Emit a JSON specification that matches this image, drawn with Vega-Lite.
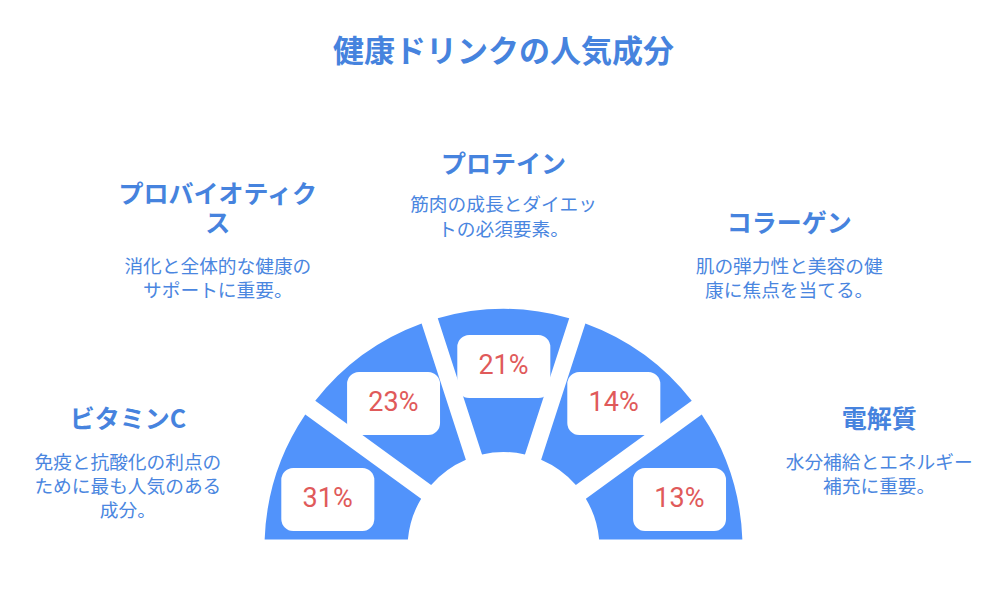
{
  "$schema": "https://vega.github.io/schema/vega-lite/v6.json",
  "width": 1007,
  "height": 602,
  "padding": 0,
  "autosize": {"type": "none"},
  "background": "white",
  "config": {"view": {"stroke": null}},
  "data": {
    "values": [
      {"order": 1, "name": ["ビタミンC"], "pct": "31%", "desc": ["免疫と抗酸化の利点の", "ために最も人気のある", "成分。"]},
      {"order": 2, "name": ["プロバイオティク", "ス"], "pct": "23%", "desc": ["消化と全体的な健康の", "サポートに重要。"]},
      {"order": 3, "name": ["プロテイン"], "pct": "21%", "desc": ["筋肉の成長とダイエッ", "トの必須要素。"]},
      {"order": 4, "name": ["コラーゲン"], "pct": "14%", "desc": ["肌の弾力性と美容の健", "康に焦点を当てる。"]},
      {"order": 5, "name": ["電解質"], "pct": "13%", "desc": ["水分補給とエネルギー", "補充に重要。"]}
    ]
  },
  "resolve": {"scale": {"theta": "independent"}},
  "layer": [
    {
      "mark": {"type": "arc", "innerRadius": 96, "outerRadius": 239, "padAngle": 0.066, "color": "#5193FB", "yOffset": 247},
      "encoding": {
        "theta": {"aggregate": "count", "type": "quantitative", "stack": true, "scale": {"domain": [0, 5], "range": [-1.5708, 1.5708]}},
        "detail": {"field": "order", "type": "ordinal"},
        "order": {"field": "order", "type": "quantitative"}
      }
    },
    {
      "mark": {"type": "text", "text": "■", "font": "DejaVu Sans", "fontSize": 51, "fill": "white", "stroke": "white", "strokeWidth": 24, "strokeJoin": "round", "radius": 183, "dx": -15, "baseline": "middle", "align": "center", "yOffset": 247},
      "encoding": {
        "theta": {"field": "order", "type": "quantitative", "stack": null, "scale": {"domain": [0.5, 5.5], "range": [-1.6144, 1.6144]}}
      }
    },
    {
      "mark": {"type": "text", "text": "■", "font": "DejaVu Sans", "fontSize": 51, "fill": "white", "stroke": "white", "strokeWidth": 24, "strokeJoin": "round", "radius": 183, "dx": 15, "baseline": "middle", "align": "center", "yOffset": 247},
      "encoding": {
        "theta": {"field": "order", "type": "quantitative", "stack": null, "scale": {"domain": [0.5, 5.5], "range": [-1.6144, 1.6144]}}
      }
    },
    {
      "mark": {"type": "text", "font": "Roboto", "fontSize": 27, "color": "#E05A5A", "radius": 183, "dy": 1, "baseline": "middle", "align": "center", "yOffset": 247},
      "encoding": {
        "theta": {"field": "order", "type": "quantitative", "stack": null, "scale": {"domain": [0.5, 5.5], "range": [-1.6144, 1.6144]}},
        "text": {"field": "pct", "type": "nominal"}
      }
    },
    {
      "transform": [{"filter": "datum.order == 3"}],
      "mark": {"type": "text", "font": "Noto Sans CJK JP", "fontSize": 25, "fontWeight": "bold", "color": "#4683DE", "radius": 385, "dy": 2, "lineHeight": 29, "baseline": "middle", "align": "center", "yOffset": 247},
      "encoding": {
        "theta": {"field": "order", "type": "quantitative", "stack": null, "scale": {"domain": [0.5, 5.5], "range": [-1.5708, 1.5708]}},
        "text": {"field": "name"}
      }
    },
    {
      "transform": [{"filter": "datum.order == 2"}],
      "mark": {"type": "text", "font": "Noto Sans CJK JP", "fontSize": 25, "fontWeight": "bold", "color": "#4683DE", "radius": 486, "dy": 53, "lineHeight": 29.5, "baseline": "bottom", "align": "center", "yOffset": 247},
      "encoding": {
        "theta": {"field": "order", "type": "quantitative", "stack": null, "scale": {"domain": [0.5, 5.5], "range": [-1.5708, 1.5708]}},
        "text": {"field": "name"}
      }
    },
    {
      "transform": [{"filter": "datum.order == 4"}],
      "mark": {"type": "text", "font": "Noto Sans CJK JP", "fontSize": 25, "fontWeight": "bold", "color": "#4683DE", "radius": 486, "dy": 82, "lineHeight": 29, "baseline": "bottom", "align": "center", "yOffset": 247},
      "encoding": {
        "theta": {"field": "order", "type": "quantitative", "stack": null, "scale": {"domain": [0.5, 5.5], "range": [-1.5708, 1.5708]}},
        "text": {"field": "name"}
      }
    },
    {
      "transform": [{"filter": "datum.order == 1 || datum.order == 5"}],
      "mark": {"type": "text", "font": "Noto Sans CJK JP", "fontSize": 25, "fontWeight": "bold", "color": "#4683DE", "radius": 395, "dy": -6, "lineHeight": 29, "baseline": "middle", "align": "center", "yOffset": 247},
      "encoding": {
        "theta": {"field": "order", "type": "quantitative", "stack": null, "scale": {"domain": [0.5, 5.5], "range": [-1.5708, 1.5708]}},
        "text": {"field": "name"}
      }
    },
    {
      "transform": [{"filter": "datum.order == 3"}],
      "mark": {"type": "text", "font": "Noto Sans CJK JP", "fontSize": 18.7, "color": "#4A86E0", "radius": 385, "dy": 33, "lineHeight": 24.5, "baseline": "top", "align": "center", "yOffset": 247},
      "encoding": {
        "theta": {"field": "order", "type": "quantitative", "stack": null, "scale": {"domain": [0.5, 5.5], "range": [-1.5708, 1.5708]}},
        "text": {"field": "desc"}
      }
    },
    {
      "transform": [{"filter": "datum.order == 2 || datum.order == 4"}],
      "mark": {"type": "text", "font": "Noto Sans CJK JP", "fontSize": 18.7, "color": "#4A86E0", "radius": 486, "dy": 103, "lineHeight": 24, "baseline": "top", "align": "center", "yOffset": 247},
      "encoding": {
        "theta": {"field": "order", "type": "quantitative", "stack": null, "scale": {"domain": [0.5, 5.5], "range": [-1.5708, 1.5708]}},
        "text": {"field": "desc"}
      }
    },
    {
      "transform": [{"filter": "datum.order == 1 || datum.order == 5"}],
      "mark": {"type": "text", "font": "Noto Sans CJK JP", "fontSize": 18.7, "color": "#4A86E0", "radius": 395, "dy": 28, "lineHeight": 24, "baseline": "top", "align": "center", "yOffset": 247},
      "encoding": {
        "theta": {"field": "order", "type": "quantitative", "stack": null, "scale": {"domain": [0.5, 5.5], "range": [-1.5708, 1.5708]}},
        "text": {"field": "desc"}
      }
    },
    {
      "data": {"values": [{"title": "健康ドリンクの人気成分"}]},
      "mark": {"type": "text", "font": "Noto Sans CJK JP", "fontSize": 31, "fontWeight": "bold", "color": "#4683DE", "dy": -495, "baseline": "middle", "align": "center", "yOffset": 247},
      "encoding": {
        "text": {"field": "title", "type": "nominal"}
      }
    }
  ]
}
